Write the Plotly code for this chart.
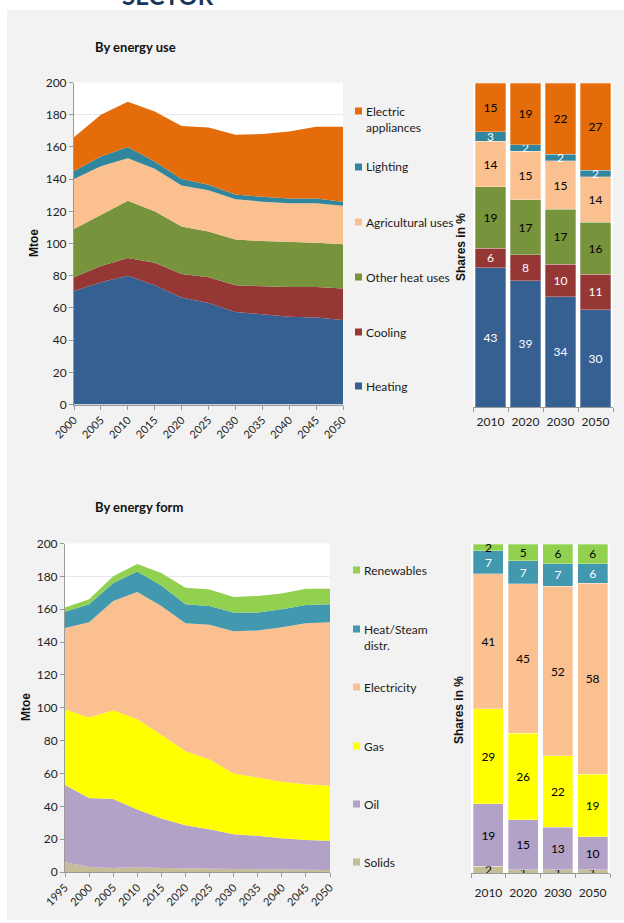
import plotly.graph_objects as go

W, H = 624, 923

# ---------------- DATA ----------------
years_use = [2000, 2005, 2010, 2015, 2020, 2025, 2030, 2035, 2040, 2045, 2050]
heating = [70.5, 76, 80, 74, 66.5, 63, 57.5, 56, 54.5, 54, 52.5]
cooling = [8.5, 10, 11, 14, 14.5, 16, 16.5, 17.5, 18.5, 19, 19.5]
other_heat = [30, 32, 35.5, 32, 29.5, 28.5, 28.5, 28, 28, 27.5, 27.5]
agricultural = [31, 30, 26.5, 26.5, 25.5, 25.5, 25, 24.5, 24, 24.5, 24]
lighting = [5, 6, 7, 4.5, 4, 3.5, 3, 3, 3, 3, 2.5]
electric = [21, 26, 28, 31, 33, 35.5, 37, 39, 41.5, 44.5, 46.5]

years_form = [1995, 2000, 2005, 2010, 2015, 2020, 2025, 2030, 2035, 2040, 2045, 2050]
solids = [6, 3, 2.5, 3, 2.5, 2.2, 1.8, 1.8, 1.6, 1.5, 1.3, 1.2]
oil = [47, 42, 42, 35, 30, 26.3, 24.2, 21.2, 20.4, 19, 18.2, 17.8]
gas = [46, 49, 54, 55, 51, 45, 42.5, 37, 35.5, 34.5, 34, 33.5]
electricity = [49.5, 58, 66.5, 77.5, 78.5, 78, 82, 86.5, 89.5, 94, 98, 99.5]
heat_steam = [10, 11, 11, 12.5, 12.5, 11.5, 11.5, 11.5, 11, 11, 11, 11]
renewables = [2.5, 3, 4, 4.5, 7.5, 10, 10, 9.5, 10, 9.5, 10, 9.5]

share_years = ["2010", "2020", "2030", "2050"]
sh_heating = [43, 39, 34, 30]
sh_cooling = [6, 8, 10, 11]
sh_other_heat = [19, 17, 17, 16]
sh_agricultural = [14, 15, 15, 14]
sh_lighting = [3, 2, 2, 2]
sh_electric = [15, 19, 22, 27]

sh_solids = [2, 1, 1, 1]
sh_oil = [19, 15, 13, 10]
sh_gas = [29, 26, 22, 19]
sh_electricity = [41, 45, 52, 58]
sh_heat_steam = [7, 7, 7, 6]
sh_renewables = [2, 5, 6, 6]

use_names = ["Heating", "Cooling", "Other heat uses", "Agricultural uses", "Lighting", "Electric appliances"]
form_names = ["Solids", "Oil", "Gas", "Electricity", "Heat/Steam distr.", "Renewables"]

# ---------------- STYLE ----------------
FONT = "Lato, 'Open Sans', Arial, sans-serif"
GRAY_BG = "#F2F2F2"
use_colors = ["#376092", "#953735", "#77933C", "#FAC090", "#31859C", "#E46C0A"]
use_txt = ["white", "white", "black", "black", "white", "black"]
form_colors = ["#C4BD97", "#B3A2C7", "#FFFF00", "#FAC090", "#4198AF", "#92D050"]
form_txt = ["black", "black", "black", "black", "white", "black"]


def px_x(p):
    return p / W


def px_y(p):
    return 1 - p / H


fig = go.Figure()

use_series = [heating, cooling, other_heat, agricultural, lighting, electric]
for name, vals, col in zip(use_names, use_series, use_colors):
    fig.add_trace(go.Scatter(x=years_use, y=vals, name=name, mode="lines",
                             stackgroup="use", line=dict(width=0, color=col),
                             fillcolor=col, xaxis="x", yaxis="y", showlegend=False))

use_shares = [sh_heating, sh_cooling, sh_other_heat, sh_agricultural, sh_lighting, sh_electric]
for name, vals, col, tc in zip(use_names, use_shares, use_colors, use_txt):
    fig.add_trace(go.Bar(x=share_years, y=vals, name=name,
                         marker=dict(color=col, line=dict(width=0.6, color="rgba(255,255,255,0.5)")),
                         text=vals, texttemplate="%{text}", textposition="inside",
                         insidetextanchor="middle", textangle=0,
                         textfont=dict(color=tc, size=12, family=FONT),
                         xaxis="x2", yaxis="y2", showlegend=False))

form_series = [solids, oil, gas, electricity, heat_steam, renewables]
for name, vals, col in zip(form_names, form_series, form_colors):
    fig.add_trace(go.Scatter(x=years_form, y=vals, name=name, mode="lines",
                             stackgroup="form", line=dict(width=0, color=col),
                             fillcolor=col, xaxis="x3", yaxis="y3", showlegend=False))

form_shares = [sh_solids, sh_oil, sh_gas, sh_electricity, sh_heat_steam, sh_renewables]
for name, vals, col, tc in zip(form_names, form_shares, form_colors, form_txt):
    fig.add_trace(go.Bar(x=share_years, y=vals, name=name,
                         marker=dict(color=col, line=dict(width=0.6, color="rgba(255,255,255,0.5)")),
                         text=vals, texttemplate="%{text}", textposition="inside",
                         insidetextanchor="middle", textangle=0,
                         textfont=dict(color=tc, size=12, family=FONT),
                         xaxis="x4", yaxis="y4", showlegend=False))

tickfont = dict(family=FONT, size=11, color="#222222")
area_x = dict(showline=True, linecolor="#9A9A9A", ticks="outside", ticklen=4, tickcolor="#9A9A9A",
              tickangle=-45, tickfont=tickfont, showgrid=False, zeroline=False, dtick=5,
              automargin=False)
area_y = dict(showline=True, linecolor="#9A9A9A", ticks="outside", ticklen=4, tickcolor="#9A9A9A",
              tickfont=dict(family=FONT, size=12, color="#222222"), showgrid=True, gridcolor="#E8E8F0",
              zeroline=False, range=[0, 200], dtick=20, automargin=False)
bar_x = dict(showline=True, linecolor="#9A9A9A", ticks="outside", ticklen=4, tickcolor="#9A9A9A",
             tickson="boundaries", tickangle=0, tickfont=dict(family=FONT, size=12, color="#222222"),
             type="category", automargin=False)
bar_y = dict(showline=False, showticklabels=False, showgrid=False, zeroline=False, range=[0, 100],
             automargin=False)

fig.update_layout(
    width=W, height=H, margin=dict(l=0, r=0, t=0, b=0, pad=0), autosize=False,
    paper_bgcolor=GRAY_BG, plot_bgcolor="white",
    barmode="stack", barnorm="percent", bargap=0.14,
    uniformtext=dict(minsize=12, mode="show"),
    font=dict(family=FONT, color="#222222"),
    xaxis=dict(area_x, domain=[px_x(74), px_x(343)], range=[2000, 2050], anchor="y"),
    yaxis=dict(area_y, domain=[px_y(404.5), px_y(82.5)], anchor="x"),
    xaxis2=dict(bar_x, domain=[px_x(473), px_x(613)], anchor="y2", ticklabelstandoff=4),
    yaxis2=dict(bar_y, domain=[px_y(407), px_y(83)], anchor="x2"),
    xaxis3=dict(area_x, domain=[px_x(65), px_x(330)], range=[1995, 2050], anchor="y3"),
    yaxis3=dict(area_y, domain=[px_y(872), px_y(543.5)], anchor="x3"),
    xaxis4=dict(bar_x, domain=[px_x(471), px_x(610)], anchor="y4", ticklabelstandoff=9),
    yaxis4=dict(bar_y, domain=[px_y(873), px_y(544)], anchor="x4"),
)

shapes = [
    dict(type="rect", xref="paper", yref="paper", x0=0, x1=1, y0=px_y(10), y1=1,
         fillcolor="white", line=dict(width=0), layer="above"),
    dict(type="rect", xref="paper", yref="paper", x0=0, x1=px_x(7), y0=0, y1=1,
         fillcolor="white", line=dict(width=0), layer="above"),
    dict(type="rect", xref="paper", yref="paper", x0=0, x1=1, y0=0, y1=px_y(920),
         fillcolor="white", line=dict(width=0), layer="above"),
]
annotations = []

# header (cut off at top, as in the source page)
annotations.append(dict(text="<b>SECTOR</b>", xref="paper", yref="paper", x=px_x(168), y=px_y(12),
                        xanchor="center", yanchor="bottom", showarrow=False,
                        font=dict(family=FONT, size=24, color="#17365D")))

# titles
annotations.append(dict(text="<b>By energy use</b>", xref="paper", yref="paper", x=px_x(93), y=px_y(47),
                        xanchor="left", yanchor="middle", showarrow=False,
                        font=dict(family=FONT, size=13, color="#111111")))
annotations.append(dict(text="<b>By energy form</b>", xref="paper", yref="paper", x=px_x(93), y=px_y(507),
                        xanchor="left", yanchor="middle", showarrow=False,
                        font=dict(family=FONT, size=13, color="#111111")))

# axis titles
for txt, xp, yp in [("Mtoe", 34, 243), ("Mtoe", 26, 707), ("Shares in %", 461, 247), ("Shares in %", 459, 710)]:
    annotations.append(dict(text="<b>%s</b>" % txt, xref="paper", yref="paper", x=px_x(xp), y=px_y(yp),
                            xanchor="center", yanchor="middle", textangle=-90, showarrow=False,
                            font=dict(family="Arial, sans-serif", size=12, color="#111111")))

# legends
top_leg = [("Electric<br>appliances", use_colors[5], 111, 119.5),
           ("Lighting", use_colors[4], 167, 167),
           ("Agricultural uses", use_colors[3], 222, 222),
           ("Other heat uses", use_colors[2], 277, 277),
           ("Cooling", use_colors[1], 332, 332),
           ("Heating", use_colors[0], 386, 386)]
bot_leg = [("Renewables", form_colors[5], 570, 570),
           ("Heat/Steam<br>distr.", form_colors[4], 629, 637.5),
           ("Electricity", form_colors[3], 687, 687),
           ("Gas", form_colors[2], 746, 746),
           ("Oil", form_colors[1], 804, 804),
           ("Solids", form_colors[0], 862, 862)]
for items, mx in [(top_leg, 355), (bot_leg, 353)]:
    for txt, col, my, ty in items:
        shapes.append(dict(type="rect", xref="paper", yref="paper",
                           x0=px_x(mx), x1=px_x(mx + 7), y0=px_y(my + 3.5), y1=px_y(my - 3.5),
                           fillcolor=col, line=dict(width=0)))
        annotations.append(dict(text=txt, xref="paper", yref="paper", x=px_x(mx + 9), y=px_y(ty),
                                xanchor="left", yanchor="middle", align="left", showarrow=False,
                                font=dict(family=FONT, size=12, color="#1a1a1a")))

fig.update_layout(shapes=shapes, annotations=annotations)
fig.write_html("out.html", config={"responsive": False, "displayModeBar": False},
               post_script="document.body.style.margin='0';document.body.style.overflow='hidden';")
